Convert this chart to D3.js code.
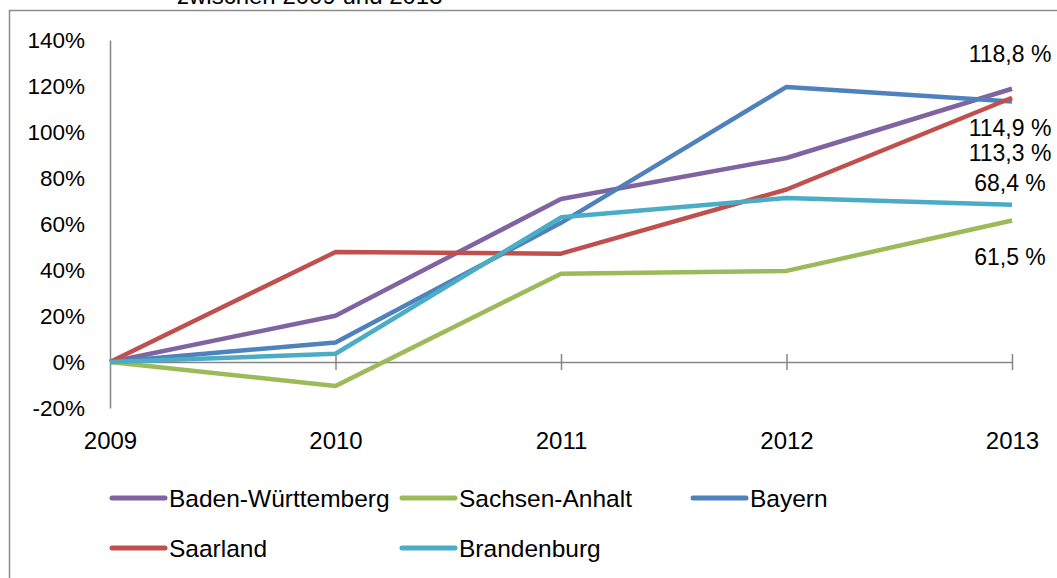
<!DOCTYPE html>
<html>
<head>
<meta charset="utf-8">
<script src="https://cdn.jsdelivr.net/npm/d3@7"></script>
<style>
  html, body { margin: 0; padding: 0; background: #fff; overflow: hidden; }
  svg { display: block; font-family: "Liberation Sans", Arial, sans-serif; }
</style>
</head>
<body>
<svg id="chart" width="1057" height="578"></svg>
<script>
// ---- data ----
const years = ["2009", "2010", "2011", "2012", "2013"];
const seriesNames = ["Baden-Württemberg", "Sachsen-Anhalt", "Bayern", "Saarland", "Brandenburg"];
const badenWuerttemberg = [0, 20.1, 70.9, 88.7, 118.8];
const sachsenAnhalt = [0, -10.4, 38.4, 39.6, 61.5];
const bayern = [0, 8.5, 60.5, 119.6, 113.3];
const saarland = [0, 47.8, 47.1, 75.0, 114.9];
const brandenburg = [0, 3.6, 62.9, 71.3, 68.4];
const yTicks = [-20, 0, 20, 40, 60, 80, 100, 120, 140];
const endLabels = ["118,8 %", "61,5 %", "113,3 %", "114,9 %", "68,4 %"];
const titleLine = "zwischen 2009 und 2013";

// ---- styling / layout ----
const colors = ["#8064A2", "#9BBB59", "#4F81BD", "#C0504D", "#4BACC6"];
const labelDy = [-35, 36, 52, 30, -22];   // pixel offsets of the end labels
const axisColor = "#868686";
const FONT = "'Liberation Sans', Arial, sans-serif";

const seriesValues = [badenWuerttemberg, sachsenAnhalt, bayern, saarland, brandenburg];
const series = seriesNames.map((n, i) => ({
  name: n, color: colors[i], label: endLabels[i], dy: labelDy[i],
  values: years.map((y, j) => ({ year: y, v: seriesValues[i][j] }))
}));

const svg = d3.select("#chart");

// outer frame (only top and left edges visible)
svg.append("path")
  .attr("d", "M9.5,578 L9.5,10.5 L1057,10.5")
  .attr("fill", "none").attr("stroke", "#8c8c8c").attr("stroke-width", 1.5);

// title (cut off at top, as in the reference)
svg.append("text").attr("x", 177).attr("y", 4)
  .attr("font-family", FONT)
  .attr("font-size", 24).attr("fill", "#000").text(titleLine);

const x = d3.scalePoint().domain(years).range([110, 1012]);
const y = d3.scaleLinear().domain([-20, 140]).range([408, 40]);

// y axis
const yAxis = svg.append("g").attr("transform", "translate(110,0)")
  .call(d3.axisLeft(y).tickValues(yTicks).tickSize(0).tickPadding(25)
    .tickFormat(d => d + "%"));
yAxis.select(".domain").attr("stroke", axisColor).attr("stroke-width", 1.5);
yAxis.selectAll("text").attr("font-size", 22.5).attr("fill", "#000")
  .attr("font-family", FONT);

// x axis line with crossing ticks at y=0
const y0 = y(0);
const xAxisDown = svg.append("g").attr("transform", `translate(0,${y0})`)
  .call(d3.axisBottom(x).tickSizeInner(8).tickSizeOuter(0).tickFormat(""));
xAxisDown.select(".domain").attr("stroke", axisColor).attr("stroke-width", 1.5);
xAxisDown.selectAll(".tick line").attr("stroke", axisColor).attr("stroke-width", 1.5);
const xAxisUp = svg.append("g").attr("transform", `translate(0,${y0})`)
  .call(d3.axisTop(x).tickSizeInner(8).tickSizeOuter(0).tickFormat(""));
xAxisUp.select(".domain").remove();
xAxisUp.selectAll(".tick line").attr("stroke", axisColor).attr("stroke-width", 1.5);
xAxisDown.selectAll(".tick").filter(d => d === years[0]).select("line").remove();
xAxisUp.selectAll(".tick").filter(d => d === years[0]).select("line").remove();

// x labels at bottom
const xLab = svg.append("g").attr("transform", `translate(0,${y(-20)})`)
  .call(d3.axisBottom(x).tickSize(0).tickPadding(24));
xLab.select(".domain").remove();
xLab.selectAll("text").attr("font-size", 24).attr("fill", "#000")
  .attr("font-family", FONT);

// lines
const line = d3.line().x(d => x(d.year)).y(d => y(d.v));
svg.append("g").selectAll("path").data(series).join("path")
  .attr("d", d => line(d.values))
  .attr("fill", "none").attr("stroke", d => d.color)
  .attr("stroke-width", 4.5).attr("stroke-linejoin", "round");

// end labels
svg.append("g").selectAll("text").data(series).join("text")
  .attr("x", 1010)
  .attr("y", d => y(d.values[d.values.length - 1].v) + d.dy)
  .attr("dy", "0.35em").attr("text-anchor", "middle")
  .attr("font-size", 23).attr("fill", "#000")
  .text(d => d.label);

// legend
const legendPos = [[112, 498], [402, 498], [693, 498], [112, 548], [402, 548]];
const lg = svg.append("g").selectAll("g").data(series).join("g")
  .attr("transform", (d, i) => `translate(${legendPos[i][0]},${legendPos[i][1]})`);
lg.append("line").attr("x1", 0).attr("x2", 53).attr("y1", 0).attr("y2", 0)
  .attr("stroke", d => d.color).attr("stroke-width", 5).attr("stroke-linecap", "round");
lg.append("text").attr("x", 57).attr("dy", "0.35em")
  .attr("font-size", 24.5).attr("fill", "#000").text(d => d.name);
</script>
</body>
</html>
